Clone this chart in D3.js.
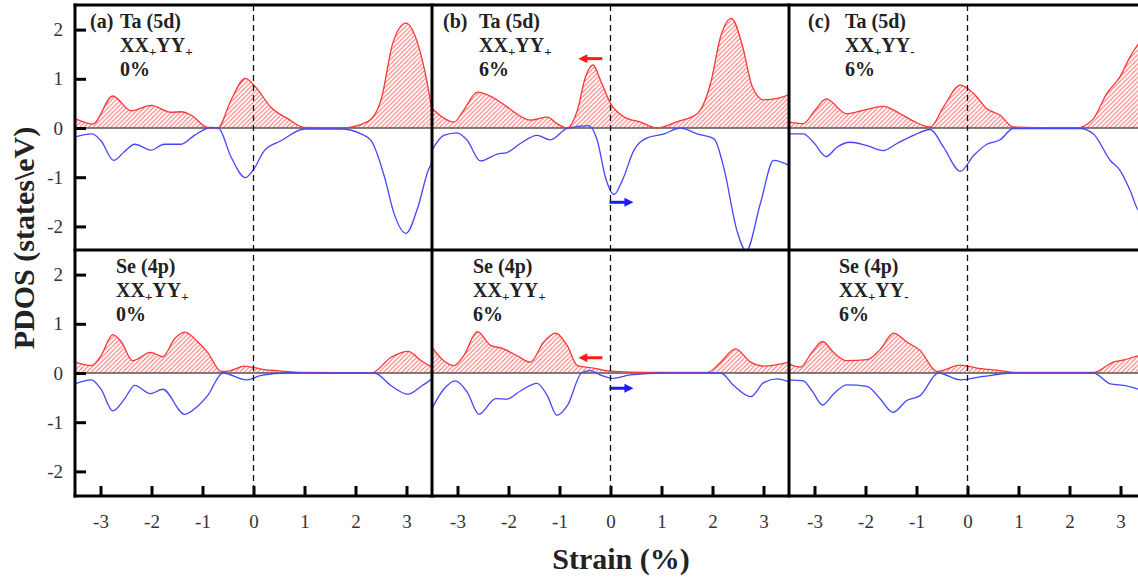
<!DOCTYPE html>
<html>
<head>
<meta charset="utf-8">
<script src="https://cdn.jsdelivr.net/npm/d3@7"></script>
<style>
  body { margin: 0; background: #fff; }
</style>
</head>
<body>
<div id="chart"></div>
<script>
var xTicks = [-3, -2, -1, 0, 1, 2, 3];
var yTicks = [-2, -1, 0, 1, 2];

// Ta (5d), top row: [energy, pdos]
var taUpA = [[-3.5,0.19],[-3.15,0.08],[-2.76,0.65],[-2.4,0.35],[-2.01,0.46],[-1.61,0.32],[-1.42,0.33],[-1.22,0.26],[-0.9,0.01],[-0.7,0],[-0.44,0.57],[-0.16,1.01],[0.05,0.82],[0.35,0.41],[0.67,0.19],[1.0,0.01],[1.72,0],[2.24,0.13],[2.5,0.57],[2.73,1.72],[2.99,2.13],[3.22,1.72],[3.42,0.84],[3.5,0.36]];
var taDnA = [[-3.5,-0.18],[-3.17,-0.12],[-2.99,-0.26],[-2.74,-0.66],[-2.54,-0.49],[-2.33,-0.33],[-2.01,-0.45],[-1.75,-0.33],[-1.42,-0.33],[-1.16,-0.15],[-0.83,0.01],[-0.69,0],[-0.44,-0.59],[-0.16,-1.01],[-0.01,-0.86],[0.22,-0.45],[0.54,-0.26],[1.0,-0.02],[1.72,-0.02],[2.11,-0.12],[2.31,-0.26],[2.57,-1.0],[2.76,-1.75],[2.99,-2.14],[3.22,-1.62],[3.43,-0.85],[3.5,-0.7]];
var taUpB = [[-3.5,0.4],[-3.46,0.36],[-3.07,0.12],[-2.88,0.36],[-2.61,0.73],[-2.22,0.57],[-2.03,0.43],[-1.57,0.16],[-1.24,0.22],[-1.05,0.09],[-0.85,0],[-0.65,0.36],[-0.49,1.04],[-0.34,1.28],[-0.2,0.98],[0,0.5],[0.26,0.23],[0.59,0.12],[0.92,0],[1.31,0.13],[1.7,0.29],[1.96,0.9],[2.16,1.86],[2.37,2.23],[2.58,1.7],[2.78,0.84],[3.01,0.57],[3.27,0.6],[3.5,0.68]];
var taDnB = [[-3.5,-0.45],[-3.27,-0.15],[-3.01,-0.1],[-2.81,-0.25],[-2.55,-0.67],[-2.22,-0.53],[-2.03,-0.5],[-1.76,-0.31],[-1.44,-0.15],[-1.18,-0.24],[-0.85,-0.01],[-0.43,0.05],[-0.26,-0.25],[-0.1,-1.0],[0.07,-1.35],[0.23,-1.07],[0.46,-0.45],[0.72,-0.2],[1.05,-0.12],[1.37,0],[1.7,-0.12],[2.03,-0.22],[2.22,-0.8],[2.48,-2.09],[2.66,-2.5],[2.94,-1.53],[3.2,-0.66],[3.5,-0.76]];
var taUpC = [[-3.5,0.12],[-3.22,0.09],[-2.99,0.36],[-2.77,0.59],[-2.37,0.29],[-2.04,0.36],[-1.65,0.44],[-1.32,0.29],[-1.06,0.14],[-0.73,0.02],[-0.47,0.43],[-0.14,0.87],[0.12,0.7],[0.38,0.39],[0.64,0.26],[0.9,0.02],[2.14,0],[2.47,0.19],[2.73,0.7],[2.99,1.04],[3.19,1.45],[3.36,1.72],[3.5,1.86]];
var taDnC = [[-3.5,-0.12],[-3.22,-0.12],[-3.02,-0.29],[-2.77,-0.58],[-2.56,-0.39],[-2.3,-0.29],[-1.97,-0.36],[-1.65,-0.46],[-1.39,-0.32],[-1.06,-0.15],[-0.73,-0.03],[-0.47,-0.39],[-0.14,-0.88],[0.12,-0.56],[0.38,-0.33],[0.64,-0.24],[0.9,-0.01],[2.21,-0.01],[2.47,-0.12],[2.8,-0.66],[2.99,-0.86],[3.19,-1.27],[3.36,-1.68],[3.5,-1.72]];

// Se (4p), bottom row
var seUpA = [[-3.5,0.22],[-3.18,0.15],[-2.99,0.35],[-2.76,0.78],[-2.59,0.63],[-2.37,0.25],[-2.02,0.42],[-1.78,0.33],[-1.55,0.69],[-1.35,0.83],[-1.09,0.63],[-0.9,0.42],[-0.63,0.03],[-0.44,0.05],[-0.18,0.14],[0.15,0.08],[0.54,0.04],[1.06,0.01],[2.31,0],[2.7,0.32],[3.03,0.44],[3.29,0.25],[3.5,0.12]];
var seDnA = [[-3.5,-0.22],[-3.18,-0.14],[-2.99,-0.33],[-2.76,-0.77],[-2.53,-0.53],[-2.33,-0.25],[-2.02,-0.42],[-1.78,-0.33],[-1.35,-0.84],[-1.09,-0.67],[-0.9,-0.46],[-0.6,0],[-0.14,-0.14],[0.15,-0.05],[0.67,0],[2.37,0],[2.7,-0.26],[3.03,-0.43],[3.29,-0.27],[3.5,-0.12]];
var seUpB = [[-3.5,0.52],[-3.27,0.25],[-3.07,0.15],[-2.88,0.35],[-2.61,0.84],[-2.35,0.56],[-2.12,0.5],[-1.83,0.35],[-1.57,0.22],[-1.31,0.63],[-1.08,0.81],[-0.85,0.56],[-0.65,0.15],[-0.33,0.1],[0,0.04],[0.72,0.01],[1.9,0.01],[2.16,0.22],[2.45,0.49],[2.75,0.22],[3.01,0.14],[3.5,0.22]];
var seDnB = [[-3.5,-0.72],[-3.27,-0.33],[-3.04,-0.16],[-2.81,-0.39],[-2.58,-0.84],[-2.25,-0.52],[-2.03,-0.53],[-1.76,-0.36],[-1.44,-0.21],[-1.24,-0.46],[-1.05,-0.86],[-0.85,-0.67],[-0.56,0.01],[-0.4,0.05],[-0.2,-0.04],[0.03,-0.11],[0.39,-0.04],[1.05,0],[2.16,0],[2.42,-0.26],[2.75,-0.48],[3.01,-0.19],[3.27,-0.12],[3.5,-0.18]];
var seUpC = [[-3.5,0.18],[-3.28,0.12],[-3.05,0.42],[-2.84,0.64],[-2.63,0.42],[-2.37,0.25],[-1.97,0.27],[-1.71,0.48],[-1.45,0.81],[-1.19,0.63],[-0.93,0.46],[-0.6,0.03],[-0.14,0.16],[0.18,0.1],[0.57,0.06],[0.96,0.01],[2.47,0.01],[2.86,0.22],[3.09,0.27],[3.36,0.35],[3.5,0.36]];
var seDnC = [[-3.5,-0.14],[-3.22,-0.16],[-3.05,-0.36],[-2.84,-0.65],[-2.63,-0.43],[-2.37,-0.24],[-1.97,-0.27],[-1.71,-0.53],[-1.46,-0.8],[-1.19,-0.56],[-0.93,-0.46],[-0.57,0],[-0.14,-0.14],[0.31,-0.07],[0.9,0],[2.47,0],[2.8,-0.22],[3.12,-0.26],[3.36,-0.33],[3.5,-0.35]];

// panel text
var panelTags = ["(a)", "(b)", "(c)"];
var topTitles = ["Ta (5d)", "Ta (5d)", "Ta (5d)"];
var botTitles = ["Se (4p)", "Se (4p)", "Se (4p)"];
var strainSigns = [["+", "+"], ["+", "+"], ["+", "-"]];
var strainPct = ["0%", "6%", "6%"];

// shift arrows (panel b): [row, from, to, pdos, colour]
var arrows = [
  [0, -0.16, -0.63, 1.41, "#ff1a1a"],
  [0, -0.02, 0.45, -1.51, "#1a1aff"],
  [1, -0.16, -0.63, 0.31, "#ff1a1a"],
  [1, -0.02, 0.45, -0.31, "#1a1aff"]
];

var serif = "'Liberation Serif', 'Times New Roman', Times, Tinos, 'DejaVu Serif', serif";
var width = 1138, height = 578;
var colLeft = [75, 432, 789], colW = 357;
var rowTop = [5, 250], rowH = 246;
var fmt = function(d) { return String(d); };

var series = [
  [[taUpA, taDnA], [seUpA, seDnA]],
  [[taUpB, taDnB], [seUpB, seDnB]],
  [[taUpC, taDnC], [seUpC, seDnC]]
];

var svg = d3.select("#chart").append("svg")
  .attr("width", width)
  .attr("height", height)
  .attr("font-family", serif)
  .style("background", "#fff");

var defs = svg.append("defs");
defs.append("pattern")
  .attr("id", "hatch")
  .attr("patternUnits", "userSpaceOnUse")
  .attr("width", 4.5)
  .attr("height", 4.5)
  .append("path")
  .attr("d", "M-1,1 l2,-2 M0,4.5 l4.5,-4.5 M3.5,5.5 l2,-2")
  .attr("stroke", "#ff6a6a")
  .attr("stroke-width", 1);

var curve = d3.curveMonotoneX;

for (var c = 0; c < 3; c++) {
  var x = d3.scaleLinear().domain([-3.5, 3.5]).range([colLeft[c], colLeft[c] + colW]);
  for (var r = 0; r < 2; r++) {
    var y = d3.scaleLinear().domain([-2.5, 2.5]).range([rowTop[r] + rowH, rowTop[r]]);
    var clipId = "clip" + c + r;
    defs.append("clipPath").attr("id", clipId)
      .append("rect")
      .attr("x", colLeft[c]).attr("y", rowTop[r])
      .attr("width", colW).attr("height", rowH);

    var g = svg.append("g").attr("clip-path", "url(#" + clipId + ")");
    var up = series[c][r][0], dn = series[c][r][1];

    var area = d3.area().curve(curve)
      .x(function(d) { return x(d[0]); })
      .y0(y(0))
      .y1(function(d) { return y(Math.max(d[1], 0)); });
    var line = d3.line().curve(curve)
      .x(function(d) { return x(d[0]); })
      .y(function(d) { return y(d[1]); });

    g.append("path").datum(up)
      .attr("d", area)
      .attr("fill", "url(#hatch)");

    g.append("line")
      .attr("x1", colLeft[c]).attr("x2", colLeft[c] + colW)
      .attr("y1", y(0)).attr("y2", y(0))
      .attr("stroke", "#555").attr("stroke-width", 1.3);

    g.append("path").datum(up)
      .attr("d", line)
      .attr("fill", "none")
      .attr("stroke", "#ff3535")
      .attr("stroke-width", 1.3);
    g.append("path").datum(dn)
      .attr("d", line)
      .attr("fill", "none")
      .attr("stroke", "#4545ff")
      .attr("stroke-width", 1.3);

    // y axis only on the first column
    if (c == 0) {
      var ya = svg.append("g")
        .attr("transform", "translate(" + colLeft[0] + ",0)")
        .call(d3.axisLeft(y).tickValues(yTicks).tickSize(-11).tickPadding(12).tickFormat(fmt));
      ya.attr("font-family", serif).attr("font-size", 19);
      ya.select(".domain").remove();
      ya.selectAll(".tick line").attr("stroke", "#000").attr("stroke-width", 3);
      ya.selectAll(".tick text").attr("fill", "#333");
    }
    // x axis on bottom row
    if (r == 1) {
      var xa = svg.append("g")
        .attr("transform", "translate(0," + (rowTop[1] + rowH) + ")")
        .call(d3.axisBottom(x).tickValues(xTicks).tickSize(-10).tickPadding(19).tickFormat(fmt));
      xa.attr("font-family", serif).attr("font-size", 19);
      xa.select(".domain").remove();
      xa.selectAll(".tick line").attr("stroke", "#000").attr("stroke-width", 3);
      xa.selectAll(".tick text").attr("fill", "#333");
    }

    // arrows in panel b
    if (c == 1) {
      arrows.filter(function(a) { return a[0] == r; }).forEach(function(a) {
        var x0 = x(a[1]), x1 = x(a[2]), yy = y(a[3]);
        var dir = x1 > x0 ? 1 : -1;
        svg.append("line")
          .attr("x1", x0).attr("x2", x1 - dir * 7)
          .attr("y1", yy).attr("y2", yy)
          .attr("stroke", a[4]).attr("stroke-width", 3);
        svg.append("path")
          .attr("d", "M" + x1 + "," + yy + " L" + (x1 - dir * 9) + "," + (yy - 4.5) + " L" + (x1 - dir * 9) + "," + (yy + 4.5) + "Z")
          .attr("fill", a[4]);
      });
    }

    // panel text
    var tx = colLeft[c];
    var t = svg.append("g")
      .attr("fill", "#222")
      .attr("font-weight", "bold")
      .attr("font-size", 20);
    if (r == 0) {
      t.append("text").attr("x", tx + [15, 11, 19][c]).attr("y", rowTop[0] + 23).text(panelTags[c]);
      var lx = tx + [45, 47, 56][c];
      t.append("text").attr("x", lx).attr("y", rowTop[0] + 23).text(topTitles[c]);
      var s = t.append("text").attr("x", lx).attr("y", rowTop[0] + 47);
      s.append("tspan").text("XX");
      s.append("tspan").attr("dy", 4).attr("font-size", 13).text(strainSigns[c][0]);
      s.append("tspan").attr("dy", -4).text("YY");
      s.append("tspan").attr("dy", 4).attr("font-size", 13).text(strainSigns[c][1]);
      t.append("text").attr("x", lx).attr("y", rowTop[0] + 71).text(strainPct[c]);
    } else {
      var bx = tx + [41, 41, 50][c];
      t.append("text").attr("x", bx).attr("y", rowTop[1] + 23).text(botTitles[c]);
      var s2 = t.append("text").attr("x", bx).attr("y", rowTop[1] + 47);
      s2.append("tspan").text("XX");
      s2.append("tspan").attr("dy", 4).attr("font-size", 13).text(strainSigns[c][0]);
      s2.append("tspan").attr("dy", -4).text("YY");
      s2.append("tspan").attr("dy", 4).attr("font-size", 13).text(strainSigns[c][1]);
      t.append("text").attr("x", bx).attr("y", rowTop[1] + 71).text(strainPct[c]);
    }
  }
  // dashed Fermi line through both rows
  svg.append("line")
    .attr("x1", x(0)).attr("x2", x(0))
    .attr("y1", rowTop[0]).attr("y2", rowTop[1] + rowH)
    .attr("stroke", "#111")
    .attr("stroke-width", 1.3)
    .attr("stroke-dasharray", "6,4");
}

// frame
var frame = svg.append("g").attr("stroke", "#000").attr("stroke-width", 3).attr("fill", "none");
[rowTop[0], rowTop[1], rowTop[1] + rowH].forEach(function(yy) {
  frame.append("line").attr("x1", colLeft[0] - 1.5).attr("x2", colLeft[2] + colW + 2).attr("y1", yy).attr("y2", yy);
});
colLeft.concat([colLeft[2] + colW]).forEach(function(xx) {
  frame.append("line").attr("x1", xx).attr("x2", xx).attr("y1", rowTop[0] - 1.5).attr("y2", rowTop[1] + rowH + 1.5);
});

// axis titles
svg.append("text")
  .attr("x", 621).attr("y", 569)
  .attr("text-anchor", "middle")
  .attr("fill", "#222")
  .attr("font-weight", "bold")
  .attr("font-size", 30)
  .text("Strain (%)");

svg.append("text")
  .attr("transform", "translate(34,238) rotate(-90)")
  .attr("text-anchor", "middle")
  .attr("fill", "#222")
  .attr("font-weight", "bold")
  .attr("font-size", 30)
  .text("PDOS (states\\eV)");
</script>
</body>
</html>
